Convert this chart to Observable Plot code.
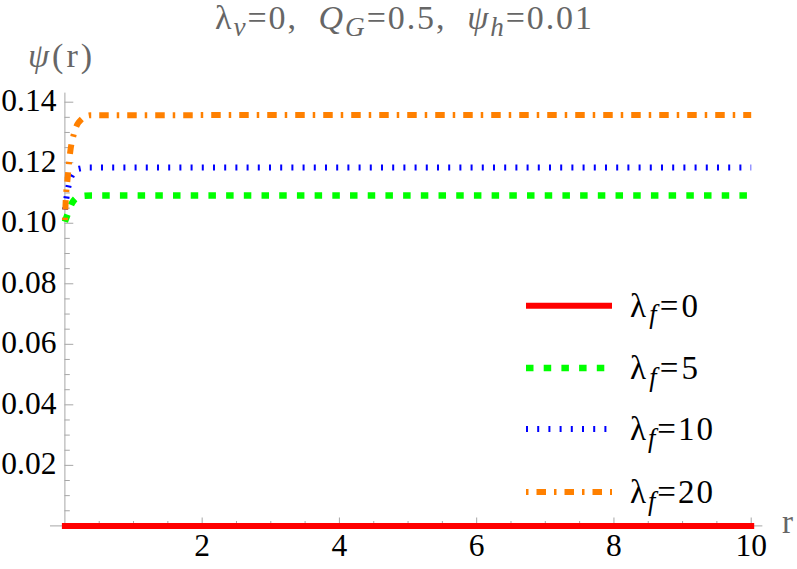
<!DOCTYPE html>
<html><head><meta charset="utf-8">
<script src="https://cdn.jsdelivr.net/npm/d3@7"></script>
<script src="https://cdn.jsdelivr.net/npm/@observablehq/plot@0.6"></script>
<style>
body{margin:0;background:#fff;}
#chart{width:797px;height:569px;}
#chart svg, #chart svg text, #chart svg tspan { font-family: "Liberation Serif", "Times New Roman", serif !important; }
</style>
</head><body><div id="chart"></div>
<script>
// ---- data ----
const lambdaF = [0, 5, 10, 20];
const rRed = [0, 10];
const psiRed = [0, 0];
const rGreen = [0, 0.04, 0.1, 0.16, 0.24, 0.4, 10];
const psiGreen = [0.1005, 0.103, 0.1065, 0.1083, 0.109, 0.1092, 0.1092];
const rBlue = [0, 0.02, 0.06, 0.12, 0.2, 0.35, 10];
const psiBlue = [0.1045, 0.108, 0.113, 0.1165, 0.118, 0.1184, 0.1184];
const rOrange = [0, 0.01, 0.04, 0.08, 0.125, 0.2, 0.37, 10];
const psiOrange = [0.101, 0.1066, 0.115, 0.124, 0.129, 0.1333, 0.1357, 0.1358];
const xTicks = [2, 4, 6, 8, 10];
const xMinor = [0.5, 1, 1.5, 2.5, 3, 3.5, 4.5, 5, 5.5, 6.5, 7, 7.5, 8.5, 9, 9.5];
const yTicks = [0.02, 0.04, 0.06, 0.08, 0.10, 0.12, 0.14];
const yMinor = [0.005, 0.01, 0.015, 0.025, 0.03, 0.035, 0.045, 0.05, 0.055, 0.065, 0.07, 0.075,
                0.085, 0.09, 0.095, 0.105, 0.11, 0.115, 0.125, 0.13, 0.135];

// ---- styles ----
const colors = ["#ff0000", "#00ff00", "#0000ff", "#ff8000"];
const widths = [6, 6.5, 6, 6];
const dashes = [null, "7.5,10.2", "2,9.2", "2.5,8,9.5,8"];
const caps = ["square", "butt", "butt", "butt"];
const axisColor = "#a6a6a6";
const labelColor = "#666666";
const font = "Liberation Serif";

const seriesR = [rRed, rGreen, rBlue, rOrange];
const seriesPsi = [psiRed, psiGreen, psiBlue, psiOrange];
const tables = seriesR.map((rs, k) => rs.map((r, i) => ({r, psi: seriesPsi[k][i], lf: lambdaF[k]})));

const tickShape = {draw(ctx, l) { ctx.moveTo(0, 0); ctx.lineTo(0, -l); }};

function richText(g, parts, x, y, size, fill, width, subScale = 0.8, shift = 0.2) {
  const t = g.append("text").attr("x", x).attr("y", y).attr("font-size", size)
    .attr("fill", fill).attr("text-anchor", "start");
  if (width) t.attr("textLength", width).attr("lengthAdjust", "spacing");
  let shifted = false;
  const sh = size * shift;
  for (const [s, k] of parts) {
    const ts = t.append("tspan").text(s);
    if (k.includes("i")) ts.attr("font-style", "italic");
    if (k.includes("s")) {
      ts.attr("font-size", size * subScale);
      if (!shifted) { ts.attr("dy", sh); shifted = true; }
    } else if (shifted) { ts.attr("dy", -sh); shifted = false; }
  }
  return t;
}

const annotations = () => {
  const g = d3.create("svg:g");
  // title
  richText(g, [["λ", ""], ["v", "is"], ["=0,  ", ""], ["Q", "i"], ["G", "is"], ["=0.5,  ", ""], ["ψ", "i"], ["h", "is"], ["=0.01", ""]],
    215, 29, 34, labelColor, 377);
  // axis labels
  richText(g, [["ψ", "i"], ["(r)", ""]], 28, 67, 34, labelColor, 64);
  richText(g, [["r", ""]], 782, 533, 33, labelColor);
  // legend
  const rows = [305.7, 368, 429, 492];
  const lens = [68, 68, 83, 83];
  lambdaF.forEach((v, k) => {
    const ln = g.append("line").attr("x1", 526).attr("x2", 612).attr("y1", rows[k]).attr("y2", rows[k])
      .attr("stroke", colors[k]).attr("stroke-width", widths[k]);
    if (dashes[k]) ln.attr("stroke-dasharray", dashes[k]);
    richText(g, [["λ", ""], ["f", "is"], ["=" + v, ""]], 630, rows[k] + 11, 33, "#000", lens[k]);
  });
  return g.node();
};

const plot = Plot.plot({
  width: 797, height: 569,
  marginLeft: 64.4, marginRight: 46.3, marginTop: 101.7, marginBottom: 43.6,
  x: {domain: [0, 10], axis: null},
  y: {domain: [0, 0.14], axis: null},
  style: {fontFamily: font, background: "#fff"},
  marks: [
    // axes
    Plot.ruleY([0], {x1: -0.21, x2: 10.17, stroke: axisColor, strokeWidth: 1}),
    Plot.ruleX([0], {y1: 0, y2: 0.143, stroke: axisColor, strokeWidth: 1}),
    Plot.vector(xTicks, {x: d => d, y: 0, length: 8, rotate: 0, anchor: "start", shape: tickShape, stroke: axisColor, strokeWidth: 1}),
    Plot.vector(xMinor, {x: d => d, y: 0, length: 4.5, rotate: 0, anchor: "start", shape: tickShape, stroke: axisColor, strokeWidth: 1}),
    Plot.vector(yTicks, {x: 0, y: d => d, length: 8, rotate: 90, anchor: "start", shape: tickShape, stroke: axisColor, strokeWidth: 1}),
    Plot.vector(yMinor, {x: 0, y: d => d, length: 4.5, rotate: 90, anchor: "start", shape: tickShape, stroke: axisColor, strokeWidth: 1}),
    Plot.text(xTicks, {x: d => d, y: 0, text: d => String(d), dy: 30, lineAnchor: "bottom", fontSize: 31.5, fontFamily: font, fill: "#000"}),
    Plot.text(yTicks, {x: 0, y: d => d, text: d => d.toFixed(2), dx: -8.5, dy: -1, textAnchor: "end", lineAnchor: "middle", fontSize: 31.5, fontFamily: font, fill: "#000"}),
    // series
    ...tables.map((t, k) => Plot.line(t, {x: "r", y: "psi", stroke: colors[k], strokeWidth: widths[k],
      strokeDasharray: dashes[k], strokeLinecap: caps[k], curve: "monotone-x"})),
    annotations
  ]
});
document.getElementById("chart").appendChild(plot);
</script>
</body></html>
